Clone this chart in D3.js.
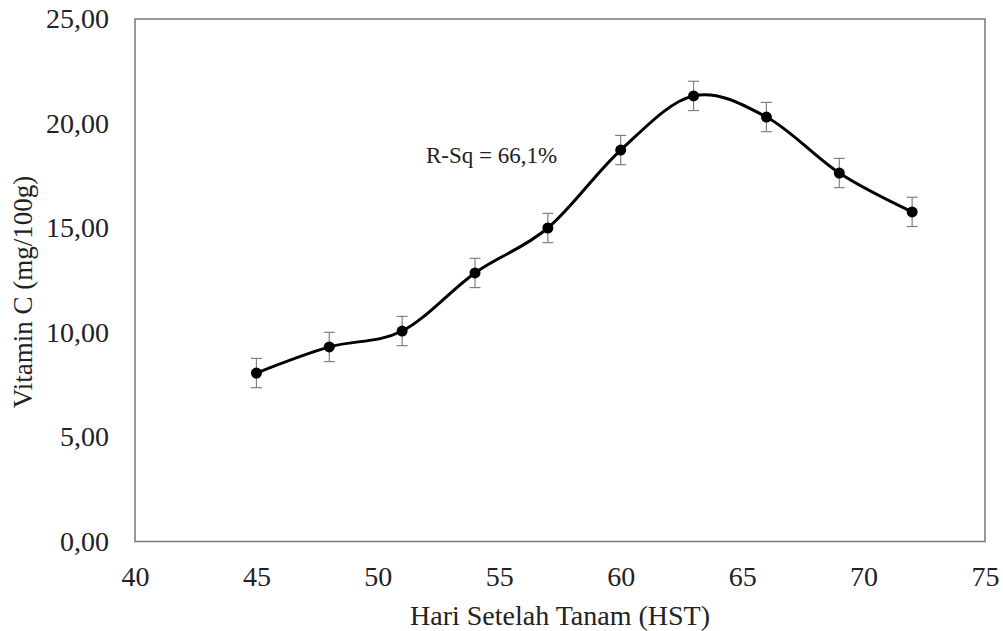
<!DOCTYPE html>
<html>
<head>
<meta charset="utf-8">
<script src="https://cdn.jsdelivr.net/npm/d3@7"></script>
<style>
  body { margin: 0; background: #fff; }
  text { font-family: "Liberation Serif", "Times New Roman", serif; fill: #222; }
</style>
</head>
<body>
<div id="chart"></div>
<script>
// data
var days = [45, 48, 51, 54, 57, 60, 63, 66, 69, 72];
var vitC = [8.06, 9.31, 10.07, 12.85, 15.0, 18.73, 21.32, 20.31, 17.63, 15.77];
var errC = [0.7, 0.7, 0.7, 0.7, 0.7, 0.7, 0.7, 0.7, 0.7, 0.7];
var xTicks = [40, 45, 50, 55, 60, 65, 70, 75];
var yTicks = [0, 5, 10, 15, 20, 25];

var W = 1003, H = 631;
var pLeft = 135, pRight = 985, pTop = 19, pBottom = 541.5;

var svg = d3.select("#chart").append("svg")
  .attr("width", W)
  .attr("height", H);

var x = d3.scaleLinear().domain([40, 75]).range([pLeft, pRight]);
var y = d3.scaleLinear().domain([0, 25]).range([pBottom, pTop]);

// decimal comma
var fmt = d3.formatLocale({decimal: ",", thousands: ".", grouping: [3], currency: ["", ""]}).format(".2f");

// y axis labels
var yAxis = svg.append("g")
  .attr("transform", "translate(" + pLeft + ",0)")
  .call(d3.axisLeft(y).tickValues(yTicks).tickFormat(fmt).tickSize(0).tickPadding(26));
yAxis.select(".domain").remove();
yAxis.selectAll("text")
  .style("font-size", "28px")
  .style("font-family", "Liberation Serif")
  .attr("fill", "#222");

// x axis labels
var xAxis = svg.append("g")
  .attr("transform", "translate(0," + pBottom + ")")
  .call(d3.axisBottom(x).tickValues(xTicks).tickSize(0).tickPadding(25));
xAxis.select(".domain").remove();
xAxis.selectAll("text")
  .style("font-size", "28px")
  .style("font-family", "Liberation Serif")
  .attr("fill", "#222");

// plot border
svg.append("rect")
  .attr("x", pLeft)
  .attr("y", pTop)
  .attr("width", pRight - pLeft)
  .attr("height", pBottom - pTop)
  .attr("fill", "none")
  .attr("stroke", "#777")
  .attr("stroke-width", 1.5);

// error bars
var pts = days.map(function(d, i) { return {x: d, y: vitC[i], e: errC[i]}; });
var eb = svg.append("g").selectAll("g").data(pts).enter().append("g")
  .attr("stroke", "#808080")
  .attr("stroke-width", 1.2);
eb.append("line")
  .attr("x1", function(d) { return x(d.x); })
  .attr("x2", function(d) { return x(d.x); })
  .attr("y1", function(d) { return y(d.y - d.e); })
  .attr("y2", function(d) { return y(d.y + d.e); });
eb.append("line")
  .attr("x1", function(d) { return x(d.x) - 5.5; })
  .attr("x2", function(d) { return x(d.x) + 5.5; })
  .attr("y1", function(d) { return y(d.y + d.e); })
  .attr("y2", function(d) { return y(d.y + d.e); });
eb.append("line")
  .attr("x1", function(d) { return x(d.x) - 5.5; })
  .attr("x2", function(d) { return x(d.x) + 5.5; })
  .attr("y1", function(d) { return y(d.y - d.e); })
  .attr("y2", function(d) { return y(d.y - d.e); });

// smooth line
var line = d3.line()
  .x(function(d) { return x(d.x); })
  .y(function(d) { return y(d.y); })
  .curve(d3.curveCardinal.tension(0));
svg.append("path")
  .datum(pts)
  .attr("d", line)
  .attr("fill", "none")
  .attr("stroke", "#000")
  .attr("stroke-width", 3);

// markers
svg.append("g").selectAll("circle").data(pts).enter().append("circle")
  .attr("cx", function(d) { return x(d.x); })
  .attr("cy", function(d) { return y(d.y); })
  .attr("r", 5.5)
  .attr("fill", "#000");

// annotation
svg.append("text")
  .attr("x", 426)
  .attr("y", 163)
  .style("font-size", "23px")
  .attr("fill", "#222")
  .text("R-Sq = 66,1%");

// axis titles
svg.append("text")
  .attr("x", (pLeft + pRight) / 2)
  .attr("y", 625)
  .attr("text-anchor", "middle")
  .style("font-size", "28px")
  .text("Hari Setelah Tanam (HST)");

svg.append("text")
  .attr("transform", "translate(32,292) rotate(-90)")
  .attr("text-anchor", "middle")
  .style("font-size", "27px")
  .text("Vitamin C (mg/100g)");
</script>
</body>
</html>
